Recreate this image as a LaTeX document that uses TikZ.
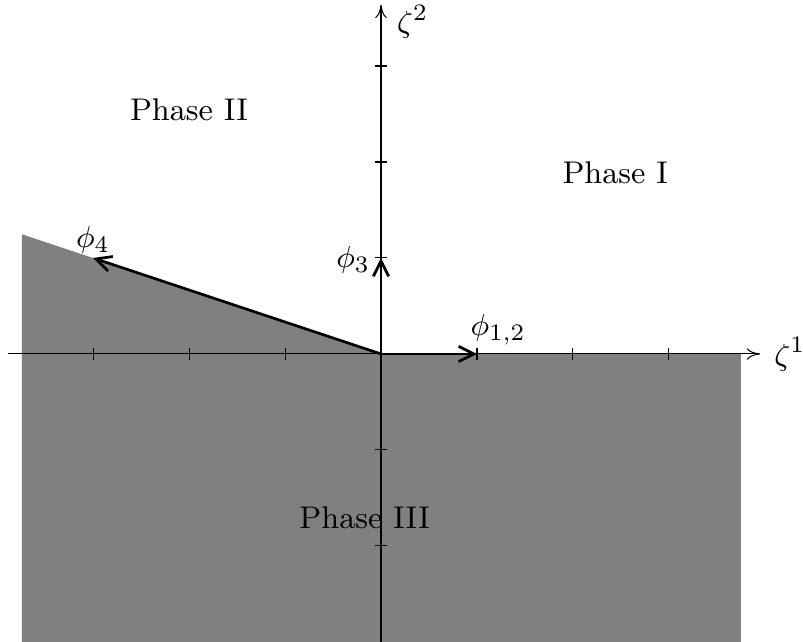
\documentclass[tikz,border=0pt]{standalone}
\usetikzlibrary{positioning,arrows.meta}

\begin{document}
\begin{tikzpicture}[
    font=\fontsize{9.3}{11}\selectfont,
    axis/.style={-{To[length=1.4mm,width=1.2mm]}, line width=0.3pt},
    vec/.style={-{Straight Barb[length=1.6mm,width=1.6mm]}, thick},
    tick/.style={line width=0.3pt},
    region/.style={fill=gray},
    phaselabel/.style={inner sep=1pt}
]

% Bounding box
\useasboundingbox (-3.969,-3.0) rectangle (4.396,3.6875);

% Phase III region
\fill[region] (-3.74,1.247) -- (0,0) -- (3.75,0) -- (3.75,-3.0) -- (-3.74,-3.0) -- cycle;

% Axes
\coordinate (O) at (0,0);
\coordinate (xstart) at (-3.885,0);
\coordinate (xend) at (3.95,0);
\coordinate (ystart) at (0,-3.0);
\coordinate (yend) at (0,3.64);
\draw[axis] (xstart) -- (xend);
\draw[axis] (ystart) -- (yend);
\node[phaselabel] (zetaone) at (4.26,0) {$\zeta^1$};
\node[phaselabel] (zetatwo) at (0.33,3.46) {$\zeta^2$};

% Ticks
\foreach \x in {-3,-2,-1,1,2,3}
    \draw[tick] (\x,-0.065) -- (\x,0.065);
\foreach \y in {-2,-1,1,2,3}
    \draw[tick] (-0.065,\y) -- (0.065,\y);

% Vectors
\coordinate (phionetwo) at (1,0);
\coordinate (phithree) at (0,1);
\coordinate (phifour) at (-3,1);
\draw[vec] (O) -- (phionetwo);
\draw[vec] (O) -- (phithree);
\draw[vec] (O) -- (phifour);

% Vector labels
\node[phaselabel] (labelonetwo) at (1.22,0.25) {$\phi_{1,2}$};
\node[phaselabel] (labelthree) at (-0.29,0.98) {$\phi_3$};
\node[phaselabel] (labelfour) at (-3.0,1.19) {$\phi_4$};

% Phase labels
\node[phaselabel] (phaseone) at (2.44,1.885) {Phase I};
\node[phaselabel] (phasetwo) at (-2.0,2.54) {Phase II};
\node[phaselabel] (phasethree) at (-0.17,-1.71) {Phase III};

\end{tikzpicture}
\end{document}
